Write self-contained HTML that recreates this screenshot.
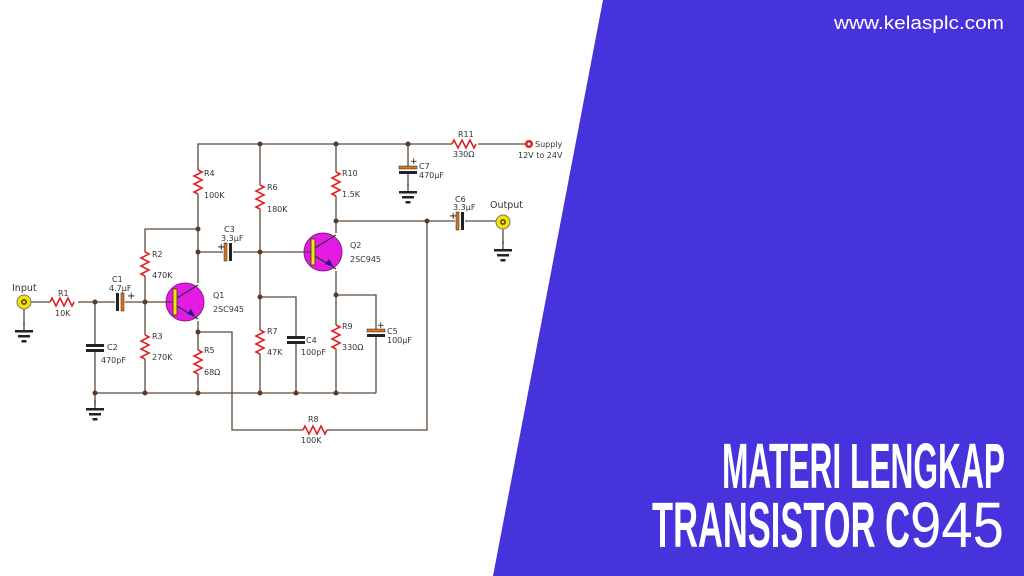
<!DOCTYPE html>
<html><head><meta charset="utf-8"><style>
html,body{margin:0;padding:0;width:1024px;height:576px;overflow:hidden;background:#fff}
svg{display:block}
.l{font-family:"DejaVu Sans","Liberation Sans",sans-serif;font-size:8px;fill:#333}
</style></head><body>
<svg width="1024" height="576" viewBox="0 0 1024 576">
<defs>
<path id="rv" d="M0,0 L4,2 L-4,6 L4,10 L-4,14 L4,18 L-4,22 L0,24" fill="none" stroke="#e02020" stroke-width="1.6"/>
<g id="gnd"><line x1="0" y1="0" x2="0" y2="8" stroke="#444" stroke-width="1.3"/><rect x="-9" y="8" width="18" height="2.5" fill="#222"/><rect x="-6" y="13" width="12" height="2.5" fill="#222"/><rect x="-2.5" y="18" width="5" height="2.5" fill="#222"/></g>
<g id="capv"><rect x="-9" y="-4" width="18" height="3" fill="#222"/><rect x="-9" y="1" width="18" height="3" fill="#222"/></g>
<g id="capvp"><rect x="-9" y="-4" width="18" height="3" fill="#d9741b" stroke="#222" stroke-width=".5"/><rect x="-9" y="1" width="18" height="3" fill="#222"/></g>
<g id="caph"><rect x="-4" y="-9" width="3" height="18" fill="#d9741b" stroke="#222" stroke-width=".5"/><rect x="1" y="-9" width="3" height="18" fill="#222"/></g>
<g id="caphr"><rect x="-4" y="-9" width="3" height="18" fill="#222"/><rect x="1" y="-9" width="3" height="18" fill="#d9741b" stroke="#222" stroke-width=".5"/></g>
<g id="jack"><circle r="7" fill="#f2e600" stroke="#777" stroke-width="1"/><circle r="3" fill="#6b4a00"/><circle r="1.3" fill="#f2e600"/></g>
<g id="q"><circle r="19" fill="#e31be3" stroke="#8a1a8a" stroke-width="1"/><rect x="-12" y="-13" width="4" height="26" fill="#f2e600" stroke="#333" stroke-width=".8"/><line x1="-8" y1="-4" x2="13" y2="-17" stroke="#333" stroke-width="1.3"/><line x1="-8" y1="4" x2="13" y2="17" stroke="#333" stroke-width="1.3"/><polygon points="10,14 2,12 6,7" fill="#1a1a80"/><line x1="-19" y1="0" x2="-12" y2="0" stroke="#444" stroke-width="1.3"/></g>
</defs>
<polygon points="603,0 1024,0 1024,576 493,576" fill="#4633db"/>
<g stroke="#5a4a3a" stroke-width="1.3" fill="none">
<polyline points="198,170 198,144 452,144"/><line x1="478" y1="144" x2="526" y2="144"/>
<line x1="198" y1="194" x2="198" y2="283"/>
<polyline points="198,229 145,229 145,252"/>
<line x1="145" y1="276" x2="145" y2="335"/><line x1="145" y1="359" x2="145" y2="393"/>
<line x1="198" y1="252" x2="223" y2="252"/><line x1="233" y1="252" x2="304" y2="252"/>
<line x1="31" y1="302" x2="50" y2="302"/><line x1="78" y1="302" x2="115" y2="302"/><line x1="125" y1="302" x2="166" y2="302"/>
<line x1="24" y1="309" x2="24" y2="325"/>
<line x1="95" y1="302" x2="95" y2="344"/><line x1="95" y1="352" x2="95" y2="405"/>
<line x1="198" y1="321" x2="198" y2="350"/><line x1="198" y1="374" x2="198" y2="393"/>
<polyline points="198,332 232,332 232,430 303,430"/><polyline points="327,430 427,430 427,221"/>
<line x1="95" y1="393" x2="376" y2="393"/>
<line x1="260" y1="144" x2="260" y2="185"/><line x1="260" y1="209" x2="260" y2="330"/><line x1="260" y1="354" x2="260" y2="393"/>
<polyline points="260,297 296,297 296,336"/><line x1="296" y1="344" x2="296" y2="393"/>
<line x1="336" y1="144" x2="336" y2="172"/><line x1="336" y1="196" x2="336" y2="233"/>
<line x1="336" y1="271" x2="336" y2="325"/><line x1="336" y1="349" x2="336" y2="393"/>
<polyline points="336,295 376,295 376,329"/><line x1="376" y1="337" x2="376" y2="393"/>
<line x1="336" y1="221" x2="455" y2="221"/><line x1="465" y1="221" x2="496" y2="221"/>
<line x1="503" y1="229" x2="503" y2="244"/>
<line x1="408" y1="144" x2="408" y2="166"/><line x1="408" y1="174" x2="408" y2="186"/>
</g>
<use href="#rv" x="198" y="170"/><use href="#rv" x="145" y="252"/><use href="#rv" x="145" y="335"/>
<use href="#rv" x="198" y="350"/><use href="#rv" x="260" y="185"/><use href="#rv" x="260" y="330"/>
<use href="#rv" x="336" y="172"/><use href="#rv" x="336" y="325"/>
<use href="#rv" transform="translate(50,302) rotate(-90)"/><use href="#rv" transform="translate(303,430) rotate(-90)"/><use href="#rv" transform="translate(452,144) rotate(-90)"/>
<use href="#capv" x="95" y="348"/><use href="#capv" x="296" y="340"/>
<use href="#capvp" x="376" y="333"/><use href="#capvp" x="408" y="170"/>
<use href="#caphr" x="120" y="302"/><use href="#caph" x="228" y="252"/><use href="#caph" x="460" y="221"/>
<use href="#gnd" x="24" y="322"/><use href="#gnd" x="95" y="400"/><use href="#gnd" x="408" y="183"/><use href="#gnd" x="503" y="241"/>
<use href="#jack" x="24" y="302"/><use href="#jack" x="503" y="222"/>
<use href="#q" x="185" y="302"/><use href="#q" x="323" y="252"/>
<circle cx="529" cy="144" r="4" fill="#e02020"/><circle cx="529" cy="144" r="1.5" fill="#fff"/>
<g fill="#5a3a2a">
<circle cx="260" cy="144" r="2.5"/><circle cx="336" cy="144" r="2.5"/><circle cx="408" cy="144" r="2.5"/>
<circle cx="198" cy="229" r="2.5"/><circle cx="198" cy="252" r="2.5"/><circle cx="260" cy="252" r="2.5"/>
<circle cx="95" cy="302" r="2.5"/><circle cx="145" cy="302" r="2.5"/><circle cx="198" cy="332" r="2.5"/>
<circle cx="260" cy="297" r="2.5"/><circle cx="336" cy="221" r="2.5"/><circle cx="427" cy="221" r="2.5"/><circle cx="336" cy="295" r="2.5"/>
<circle cx="95" cy="393" r="2.5"/><circle cx="145" cy="393" r="2.5"/><circle cx="198" cy="393" r="2.5"/><circle cx="260" cy="393" r="2.5"/><circle cx="296" cy="393" r="2.5"/><circle cx="336" cy="393" r="2.5"/>
</g>
<g class="l">
<text x="12" y="291" style="font-size:9.5px">Input</text>
<text x="58" y="296">R1</text><text x="55" y="316">10K</text>
<text x="112" y="282">C1</text><text x="109" y="291">4.7μF</text><text x="127" y="299" style="font-size:10px;fill:#111">+</text>
<text x="107" y="350">C2</text><text x="101" y="363">470pF</text>
<text x="152" y="257">R2</text><text x="152" y="278">470K</text>
<text x="152" y="339">R3</text><text x="152" y="360">270K</text>
<text x="204" y="176">R4</text><text x="204" y="198">100K</text>
<text x="204" y="353">R5</text><text x="204" y="375">68Ω</text>
<text x="224" y="232">C3</text><text x="221" y="241">3.3μF</text><text x="217" y="250" style="font-size:10px;fill:#111">+</text>
<text x="213" y="298">Q1</text><text x="213" y="312">2SC945</text>
<text x="267" y="190">R6</text><text x="267" y="212">180K</text>
<text x="267" y="334">R7</text><text x="267" y="355">47K</text>
<text x="306" y="343">C4</text><text x="301" y="355">100pF</text>
<text x="342" y="176">R10</text><text x="342" y="197">1.5K</text>
<text x="350" y="248">Q2</text><text x="350" y="262">2SC945</text>
<text x="342" y="329">R9</text><text x="342" y="350">330Ω</text>
<text x="387" y="334">C5</text><text x="387" y="343">100μF</text><text x="377" y="328" style="font-size:9px;fill:#111">+</text>
<text x="419" y="169">C7</text><text x="419" y="178">470μF</text><text x="410" y="164" style="font-size:9px;fill:#111">+</text>
<text x="458" y="137">R11</text><text x="453" y="157">330Ω</text>
<text x="535" y="147">Supply</text><text x="518" y="158">12V to 24V</text>
<text x="455" y="202">C6</text><text x="453" y="210">3.3μF</text><text x="449" y="219" style="font-size:10px;fill:#111">+</text>
<text x="490" y="208" style="font-size:9.5px">Output</text>
<text x="308" y="422">R8</text><text x="301" y="443">100K</text>
</g>
<text x="834" y="29" font-family="Liberation Sans, sans-serif" font-size="18" fill="#fff" textLength="170" lengthAdjust="spacingAndGlyphs">www.kelasplc.com</text>
<g font-family="'Liberation Sans Narrow','Liberation Sans',sans-serif" font-weight="bold" fill="#fff">
<text x="722" y="488" font-size="64" textLength="283" lengthAdjust="spacingAndGlyphs">MATERI LENGKAP</text>
<text x="652" y="547" font-size="64" textLength="258" lengthAdjust="spacingAndGlyphs">TRANSISTOR C</text>
</g>
<text x="910" y="547" font-family="'Liberation Sans',sans-serif" font-size="64" fill="#fff" textLength="94" lengthAdjust="spacingAndGlyphs">945</text>
</svg>
</body></html>
